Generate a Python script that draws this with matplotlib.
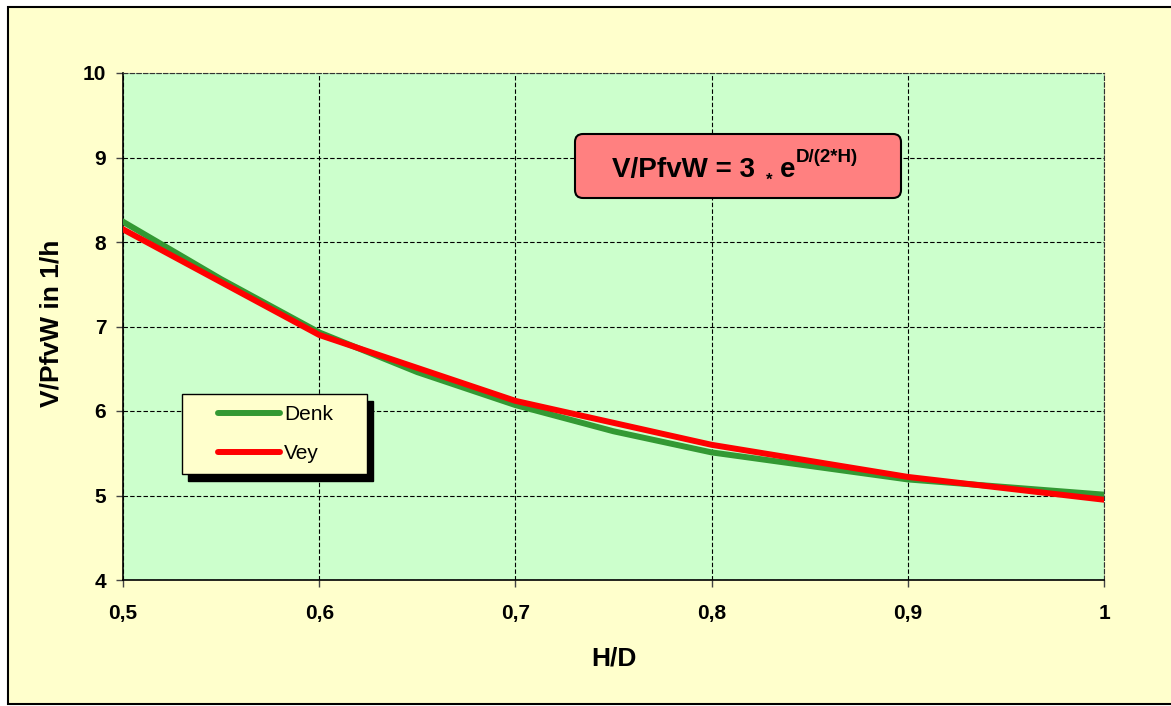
import matplotlib
matplotlib.use('Agg')
import matplotlib.pyplot as plt
from matplotlib.patches import Rectangle, FancyBboxPatch
from matplotlib.transforms import Affine2D

plt.rcParams['font.family'] = ['Liberation Sans', 'DejaVu Sans']

# Werte
hd_denk = [0.50, 0.55, 0.60, 0.65, 0.70, 0.75, 0.80, 0.85, 0.90, 0.95, 1.00]
denk = [8.24, 7.56, 6.93, 6.46, 6.07, 5.76, 5.51, 5.35, 5.19, 5.10, 5.01]
hd_vey = [0.5, 0.6, 0.7, 0.8, 0.9, 1.0]
vey = [8.15, 6.90, 6.12, 5.60, 5.22, 4.95]

x_ticks = [0.5, 0.6, 0.7, 0.8, 0.9, 1.0]
x_labels = ['0,5', '0,6', '0,7', '0,8', '0,9', '1']
y_ticks = [4, 5, 6, 7, 8, 9, 10]

W, H = 1171, 706
fig = plt.figure(figsize=(W / 100, H / 100), dpi=100)
fig.patch.set_facecolor('white')
# Pixelkoordinaten (y nach unten)
pix = Affine2D().scale(1 / W, -1 / H).translate(0, 1) + fig.transFigure

# Diagrammfläche
fig.add_artist(Rectangle((8, 7), 1200, 697, transform=pix, facecolor='#FFFFCC',
                         edgecolor='black', linewidth=1.5, zorder=-10))

ax = fig.add_axes([123 / W, 1 - 580 / H, 981 / W, 507 / H])
ax.set_facecolor('#CCFFCC')

ax.plot(hd_denk, denk, color='#339933', lw=4.3, label='Denk', zorder=3)
ax.plot(hd_vey, vey, color='#FF0000', lw=4.3, label='Vey', zorder=4)

ax.set_xlim(0.5, 1.0)
ax.set_ylim(4, 10)
ax.set_xticks(x_ticks)
ax.set_xticklabels(x_labels, fontsize=15, fontweight='bold')
ax.set_yticks(y_ticks)
ax.set_yticklabels([str(v) for v in y_ticks], fontsize=15, fontweight='bold')
ax.tick_params(axis='x', direction='out', length=5, width=1, color='#444444', pad=12.5)
ax.tick_params(axis='y', direction='out', length=5, width=1, color='#444444', pad=7)

ax.grid(True, color='black', linestyle=(0, (4, 2)), linewidth=0.8)
for s in ['left', 'bottom']:
    ax.spines[s].set_color('black')
    ax.spines[s].set_linewidth(1.2)
for s in ['top', 'right']:
    ax.spines[s].set_color('#333333')
    ax.spines[s].set_linewidth(0.8)
    ax.spines[s].set_linestyle((0, (4, 2)))

ax.set_xlabel('H/D', fontsize=19, fontweight='bold', va='center')
ax.xaxis.set_label_coords(0.5, -0.154)
ax.set_ylabel('V/PfvW in 1/h', fontsize=19, fontweight='bold', va='center')
ax.yaxis.set_label_coords(-0.0724, 0.506)

# Legende mit Schatten
ax.add_patch(Rectangle((188, 401), 185, 80, transform=pix, facecolor='black',
                       edgecolor='black', zorder=6, clip_on=False))
ax.add_patch(Rectangle((182, 394), 185, 80, transform=pix, facecolor='#FFFFCC',
                       edgecolor='black', linewidth=1, zorder=7, clip_on=False))
leg = ax.legend(loc='center', bbox_to_anchor=(275.5, 434), bbox_transform=pix,
                frameon=False, fontsize=15, handlelength=2.97, handletextpad=0.2,
                labelspacing=0.95, borderpad=0)
leg.set_zorder(8)
for ln in leg.get_lines():
    ln.set_solid_capstyle('round')
    ln.set_linewidth(4.3)

# Formelkasten
ax.add_patch(FancyBboxPatch((575, 134), 326, 64, transform=pix,
                            boxstyle='round,pad=0,rounding_size=8',
                            facecolor='#FF8080', edgecolor='black', linewidth=1.5,
                            zorder=6, clip_on=False))
t1 = ax.text(612, 177, 'V/PfvW = 3', transform=pix, fontsize=20, fontweight='bold',
             va='baseline', ha='left', zorder=9)
t2 = ax.annotate('*', xy=(1, 0), xycoords=t1, xytext=(8, -1), textcoords='offset points',
                 fontsize=12, fontweight='bold', va='baseline', ha='left', zorder=9)
t3 = ax.annotate('e', xy=(1, 0), xycoords=(t2, t1), xytext=(5, 0), textcoords='offset points',
                 fontsize=20, fontweight='bold', va='bottom', ha='left', zorder=9)
t4 = ax.annotate('D/(2*H)', xy=(1, 1), xycoords=t3, xytext=(0.5, 6), textcoords='offset points',
                 fontsize=13.5, fontweight='bold', va='top', ha='left', zorder=9)

fig.savefig('out.png', dpi=100, facecolor=fig.get_facecolor())
